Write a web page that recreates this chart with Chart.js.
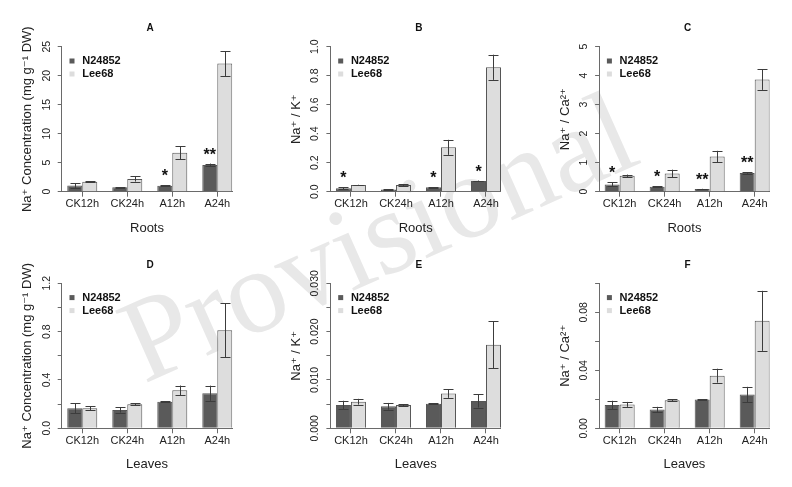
<!DOCTYPE html>
<html>
<head>
<meta charset="utf-8">
<script src="https://cdn.jsdelivr.net/npm/chart.js@4/dist/chart.umd.min.js"></script>
<style>
  html, body { margin: 0; padding: 0; background: #ffffff; }
  #wrap { position: relative; width: 792px; height: 487px; overflow: hidden; background: #ffffff; }
  #wm { position: absolute; left: 0; top: 0; z-index: 0; }
  .panel { position: absolute; z-index: 1; }
</style>
</head>
<body>
<div id="wrap">
  <svg id="wm" width="792" height="487" xmlns="http://www.w3.org/2000/svg">
    <text x="144" y="384" transform="rotate(-24 144 384)" font-family="'Liberation Serif','DejaVu Serif',serif" font-size="120" fill="#e8e8e8">Provisional</text>
  </svg>
</div>
<script>
// ---------------- data ----------------
const categories = ['CK12h', 'CK24h', 'A12h', 'A24h'];
const seriesNames = ['N24852', 'Lee68'];

// A: Roots, Na+ concentration
const rootsNa_N24852    = [1.05, 0.75, 1.03, 4.6];
const rootsNa_N24852_se = [0.4, 0.05, 0.05, 0.25];
const rootsNa_Lee68     = [1.72, 2.2, 6.7, 22.1];
const rootsNa_Lee68_se  = [0.1, 0.45, 1.1, 2.15];
const rootsNa_stars     = ['', '', '*', '**'];
const rootsNa_ticks     = [0, 5, 10, 15, 20, 25];
const rootsNa_tickLabels = ['0', '5', '10', '15', '20', '25'];

// B: Roots, Na+/K+
const rootsNaK_N24852    = [0.023, 0.016, 0.03, 0.074];
const rootsNaK_N24852_se = [0.006, 0.002, 0.002, 0.003];
const rootsNaK_Lee68     = [0.046, 0.046, 0.306, 0.858];
const rootsNaK_Lee68_se  = [0.002, 0.007, 0.052, 0.087];
const rootsNaK_stars     = ['*', '', '*', '*'];
const rootsNaK_ticks     = [0, 0.2, 0.4, 0.6, 0.8, 1.0];
const rootsNaK_tickLabels = ['0.0', '0.2', '0.4', '0.6', '0.8', '1.0'];

// C: Roots, Na+/Ca2+
const rootsNaCa_N24852    = [0.25, 0.17, 0.09, 0.645];
const rootsNaCa_N24852_se = [0.07, 0.02, 0.01, 0.03];
const rootsNaCa_Lee68     = [0.55, 0.63, 1.21, 3.87];
const rootsNaCa_Lee68_se  = [0.04, 0.13, 0.2, 0.36];
const rootsNaCa_stars     = ['*', '*', '**', '**'];
const rootsNaCa_ticks     = [0, 1, 2, 3, 4, 5];
const rootsNaCa_tickLabels = ['0', '1', '2', '3', '4', '5'];

// D: Leaves, Na+ concentration
const leavesNa_N24852    = [0.166, 0.152, 0.22, 0.29];
const leavesNa_N24852_se = [0.04, 0.022, 0.003, 0.063];
const leavesNa_Lee68     = [0.166, 0.199, 0.314, 0.811];
const leavesNa_Lee68_se  = [0.015, 0.01, 0.04, 0.225];
const leavesNa_stars     = ['', '', '', ''];
const leavesNa_ticks     = [0, 0.2, 0.4, 0.6, 0.8, 1.0, 1.2];
const leavesNa_tickLabels = ['0.0', '', '0.4', '', '0.8', '', '1.2'];

// E: Leaves, Na+/K+
const leavesNaK_N24852    = [0.0048, 0.00455, 0.0051, 0.00565];
const leavesNaK_N24852_se = [0.0009, 0.0007, 0.0001, 0.00135];
const leavesNaK_Lee68     = [0.0055, 0.0048, 0.0072, 0.0173];
const leavesNaK_Lee68_se  = [0.0006, 0.0002, 0.0009, 0.0049];
const leavesNaK_stars     = ['', '', '', ''];
const leavesNaK_ticks     = [0, 0.005, 0.010, 0.015, 0.020, 0.025, 0.030];
const leavesNaK_tickLabels = ['0.000', '', '0.010', '', '0.020', '', '0.030'];

// F: Leaves, Na+/Ca2+
const leavesNaCa_N24852    = [0.016, 0.013, 0.0199, 0.0233];
const leavesNaCa_N24852_se = [0.003, 0.0018, 0.0002, 0.0053];
const leavesNaCa_Lee68     = [0.0165, 0.0194, 0.0363, 0.0741];
const leavesNaCa_Lee68_se  = [0.0017, 0.0008, 0.0048, 0.0207];
const leavesNaCa_stars     = ['', '', '', ''];
const leavesNaCa_ticks     = [0, 0.02, 0.04, 0.06, 0.08, 0.10];
const leavesNaCa_tickLabels = ['0.00', '', '0.04', '', '0.08', ''];

const panelTitles = ['A', 'B', 'C', 'D', 'E', 'F'];
const yTitles = [
  'Na\u207A Concentration (mg g\u207B\u00B9 DW)',
  'Na\u207A / K\u207A',
  'Na\u207A / Ca\u00B2\u207A',
  'Na\u207A Concentration (mg g\u207B\u00B9 DW)',
  'Na\u207A / K\u207A',
  'Na\u207A / Ca\u00B2\u207A'
];
const xTitles = ['Roots', 'Roots', 'Roots', 'Leaves', 'Leaves', 'Leaves'];

// ---------------- style / layout ----------------
const FAMILY = "'Liberation Sans', Arial, 'DejaVu Sans', sans-serif";
const DARK = '#5a5a5a', LIGHT = '#dddddd', EDGE = '#555555';
const AXIS = '#6a6a6a', TXT = '#222222', ERR = '#3c3c3c';
const CW = 170.6, CH = 145, XH = 50;
const XMIN = 0.63, XMAX = 12;
const groupPos = categories.map((c, i) => 2 + 3 * i);
const YLAB_OFF = 15;     // distance of y tick label centre from axis
const YTITLE_OFF = 34;   // distance of y title centre from axis
const YTICK_FS = 10.5, XTICK_FS = 11, TITLE_FS = 13;

const mctx = document.createElement('canvas').getContext('2d');
function widest(labels) {
  mctx.font = YTICK_FS + 'px ' + FAMILY;
  return Math.max(...labels.map(l => mctx.measureText(l).width));
}

const decor = {
  id: 'decor',
  afterDatasetsDraw(chart, args, opts) {
    const ctx = chart.ctx, ya = chart.scales.y, area = chart.chartArea;
    ctx.save();
    // error bars
    chart.data.datasets.forEach((ds, di) => {
      const meta = chart.getDatasetMeta(di);
      meta.data.forEach((bar, i) => {
        const v = ds.data[i].y, e = ds.errors[i];
        const x = Math.round(bar.x) + 0.5;
        const yt = ya.getPixelForValue(v + e), yb = ya.getPixelForValue(Math.max(v - e, 0));
        ctx.strokeStyle = ERR; ctx.lineWidth = 1;
        ctx.beginPath();
        ctx.moveTo(x, yt); ctx.lineTo(x, yb);
        ctx.moveTo(x - 5, Math.round(yt) + 0.5); ctx.lineTo(x + 5, Math.round(yt) + 0.5);
        ctx.moveTo(x - 5, Math.round(yb) + 0.5); ctx.lineTo(x + 5, Math.round(yb) + 0.5);
        ctx.stroke();
      });
    });
    // significance stars above N24852 bars
    const ds0 = chart.data.datasets[0];
    const meta0 = chart.getDatasetMeta(0);
    ctx.fillStyle = '#111';
    ctx.font = 'bold 16px ' + FAMILY;
    ctx.textAlign = 'center';
    ctx.textBaseline = 'alphabetic';
    meta0.data.forEach((bar, i) => {
      const s = opts.stars[i];
      if (!s) return;
      const top = ya.getPixelForValue(ds0.data[i].y + ds0.errors[i]);
      ctx.fillText(s, bar.x, top - 4);
    });
    // panel title
    ctx.font = 'bold 10px ' + FAMILY;
    ctx.textBaseline = 'middle';
    ctx.fillText(opts.title, area.left + 88.5, area.top - 18.5);
    // legend
    ctx.textAlign = 'left';
    ctx.font = 'bold 11px ' + FAMILY;
    chart.data.datasets.forEach((ds, di) => {
      const cy = area.top + 14.3 + 13 * di;
      ctx.fillStyle = ds.backgroundColor;
      ctx.fillRect(area.left + 7.8, cy - 2.5, 5, 5);
      ctx.fillStyle = '#111';
      ctx.fillText(ds.label, area.left + 20.5, cy);
    });
    ctx.restore();
  }
};

const panels = [
  {axisX: 61.7,  chartTop: 46.7,  divLeft: 2,   divTop: 0,   divW: 236, divH: 242,
   n: rootsNa_N24852, nSe: rootsNa_N24852_se, l: rootsNa_Lee68, lSe: rootsNa_Lee68_se,
   stars: rootsNa_stars, ticks: rootsNa_ticks, tickLabels: rootsNa_tickLabels},
  {axisX: 330.4, chartTop: 46.7,  divLeft: 270, divTop: 0,   divW: 237, divH: 242,
   n: rootsNaK_N24852, nSe: rootsNaK_N24852_se, l: rootsNaK_Lee68, lSe: rootsNaK_Lee68_se,
   stars: rootsNaK_stars, ticks: rootsNaK_ticks, tickLabels: rootsNaK_tickLabels},
  {axisX: 599.1, chartTop: 46.7,  divLeft: 539, divTop: 0,   divW: 237, divH: 242,
   n: rootsNaCa_N24852, nSe: rootsNaCa_N24852_se, l: rootsNaCa_Lee68, lSe: rootsNaCa_Lee68_se,
   stars: rootsNaCa_stars, ticks: rootsNaCa_ticks, tickLabels: rootsNaCa_tickLabels},
  {axisX: 61.7,  chartTop: 283.3, divLeft: 2,   divTop: 237, divW: 236, divH: 242,
   n: leavesNa_N24852, nSe: leavesNa_N24852_se, l: leavesNa_Lee68, lSe: leavesNa_Lee68_se,
   stars: leavesNa_stars, ticks: leavesNa_ticks, tickLabels: leavesNa_tickLabels},
  {axisX: 330.4, chartTop: 283.3, divLeft: 270, divTop: 237, divW: 237, divH: 242,
   n: leavesNaK_N24852, nSe: leavesNaK_N24852_se, l: leavesNaK_Lee68, lSe: leavesNaK_Lee68_se,
   stars: leavesNaK_stars, ticks: leavesNaK_ticks, tickLabels: leavesNaK_tickLabels},
  {axisX: 599.1, chartTop: 283.3, divLeft: 539, divTop: 237, divW: 237, divH: 242,
   n: leavesNaCa_N24852, nSe: leavesNaCa_N24852_se, l: leavesNaCa_Lee68, lSe: leavesNaCa_Lee68_se,
   stars: leavesNaCa_stars, ticks: leavesNaCa_ticks, tickLabels: leavesNaCa_tickLabels}
];

panels.forEach((p, k) => {
  const div = document.createElement('div');
  div.className = 'panel';
  div.style.left = p.divLeft + 'px';
  div.style.top = p.divTop + 'px';
  div.style.width = p.divW + 'px';
  div.style.height = p.divH + 'px';
  const cv = document.createElement('canvas');
  div.appendChild(cv);
  document.getElementById('wrap').appendChild(div);

  const wy = p.axisX - p.divLeft;
  const padTop = p.chartTop - p.divTop;
  const padRight = p.divW - wy - CW;
  const padBottom = p.divH - padTop - CH - XH;
  const yLabPad = YLAB_OFF - 4 - widest(p.tickLabels) / 2;

  new Chart(cv, {
    type: 'bar',
    data: {
      datasets: [
        {label: seriesNames[0], data: p.n.map((v, i) => ({x: groupPos[i], y: v})), errors: p.nSe,
         backgroundColor: DARK, borderColor: EDGE, borderWidth: 1, borderSkipped: 'start',
         categoryPercentage: 2 / 3, barPercentage: 1},
        {label: seriesNames[1], data: p.l.map((v, i) => ({x: groupPos[i], y: v})), errors: p.lSe,
         backgroundColor: LIGHT, borderColor: EDGE, borderWidth: 1, borderSkipped: 'start',
         categoryPercentage: 2 / 3, barPercentage: 1}
      ]
    },
    options: {
      responsive: true,
      maintainAspectRatio: false,
      animation: false,
      events: [],
      layout: {padding: {left: 0, top: padTop, right: padRight, bottom: padBottom}},
      plugins: {
        legend: {display: false},
        tooltip: {enabled: false},
        decor: {stars: p.stars, title: panelTitles[k]}
      },
      scales: {
        x: {
          type: 'linear', min: XMIN, max: XMAX, offset: false, bounds: 'data',
          afterBuildTicks: s => { s.ticks = groupPos.map(v => ({value: v})); },
          afterFit: s => { s.height = XH; },
          grid: {display: true, drawOnChartArea: false, drawTicks: true, tickLength: 5, tickColor: AXIS, offset: false},
          border: {display: true, color: AXIS, width: 1},
          ticks: {autoSkip: false, maxRotation: 0, minRotation: 0, padding: 0.7, color: TXT,
                  font: {family: FAMILY, size: XTICK_FS},
                  callback: (v, i) => categories[i]},
          title: {display: true, text: xTitles[k], color: TXT, font: {family: FAMILY, size: TITLE_FS},
                  padding: {top: 0, bottom: 5.9}}
        },
        y: {
          type: 'linear', min: 0, max: p.ticks[p.ticks.length - 1],
          afterBuildTicks: s => { s.ticks = p.ticks.map(v => ({value: v})); },
          afterFit: s => { s.width = wy; },
          grid: {display: true, drawOnChartArea: false, drawTicks: true, tickLength: 4, tickColor: AXIS},
          border: {display: true, color: AXIS, width: 1},
          ticks: {autoSkip: false, minRotation: 90, maxRotation: 90, crossAlign: 'center',
                  padding: yLabPad, color: TXT, font: {family: FAMILY, size: YTICK_FS},
                  callback: (v, i) => p.tickLabels[i]},
          title: {display: true, text: yTitles[k], color: TXT, font: {family: FAMILY, size: TITLE_FS},
                  padding: {top: wy - YTITLE_OFF - TITLE_FS * 0.6, bottom: 0}}
        }
      }
    },
    plugins: [decor]
  });
});
</script>
</body>
</html>
